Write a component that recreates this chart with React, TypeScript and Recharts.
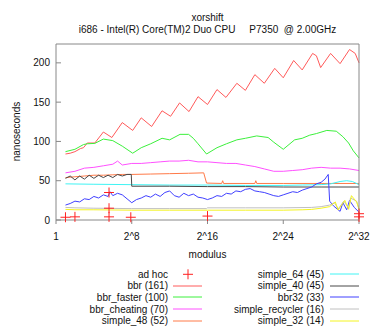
import { ComposedChart, Line, Scatter, XAxis, YAxis, Legend } from 'recharts';

// x is log2(modulus), y is nanoseconds
const adHoc = [[1, 3.5], [2, 4], [5.6, 35], [5.6, 15], [5.6, 4], [7.9, 3.5], [16, 5], [32, 4], [32, 8]];

const bbr = [[1, 84], [1.5, 85], [2, 87], [2.6, 91], [2.9, 92], [3.3, 98], [4.1, 98], [5, 112], [5.9, 105], [7, 124], [8.1, 114], [9, 130], [10.1, 119], [11.2, 139], [12.1, 132], [13.05, 149], [14.05, 138], [15, 157], [16, 147], [17, 166], [17.95, 156], [19.1, 174], [20, 165], [21, 185], [22, 174], [23.1, 193], [24, 181], [25.1, 203], [26, 191], [27.1, 212], [27.5, 209], [27.95, 194], [29, 212], [30, 199], [31, 217], [31.6, 212], [32, 200]];

const bbrFaster = [[1, 87], [2, 90], [2.9, 96], [3.3, 97], [4.1, 97.5], [5, 103], [6, 101], [7, 94], [8.1, 85], [9, 92], [10, 97], [11.2, 104], [12, 102], [13.1, 109], [14, 109], [14.5, 104], [15, 97], [15.9, 84], [17, 92], [18, 97], [19.1, 102], [20, 104], [21.2, 107], [22.4, 105], [23, 99], [24, 90], [25.2, 102], [26, 104], [26.8, 108], [27.5, 110], [28.6, 114], [29.6, 113], [30.3, 106], [30.9, 98], [31.4, 88], [32, 79]];

const bbrCheating = [[1, 60], [2, 62], [3, 66], [4, 67], [5, 69], [6, 71], [6.5, 75], [7, 70], [8, 72], [9, 72], [10, 73], [11, 74], [12, 75], [13, 75], [14, 76], [15, 74], [16, 74], [17, 73], [18, 72], [19, 72], [20, 70], [21, 68], [22, 65], [23, 62], [24, 62], [25, 63], [26, 64], [27, 66], [28, 67], [29, 66], [30, 66], [31, 65], [32, 63]];

const simple48 = [[1, 54], [2, 55], [3, 56], [4, 57], [5, 57], [6, 57.5], [7, 58], [8, 58], [10, 58.5], [12, 59], [14, 59.5], [15.6, 60], [15.9, 47], [17.5, 46.5], [17.6, 50], [17.7, 46.5], [21, 46.5], [21.1, 50], [21.2, 46.5], [24, 46.5], [28, 46.5], [32, 46.5]];

const simple64 = [[1, 46], [4, 45.5], [8, 45], [12, 44.5], [16, 44.5], [20, 44], [24, 44], [26, 44.5], [28, 45], [29, 46], [30, 49], [30.7, 50], [31.3, 49], [32, 45]];

const simple40 = [[1, 53], [1.5, 56], [2, 51], [2.5, 56], [3, 52], [3.5, 57], [4, 53], [4.5, 57], [5, 54], [5.5, 57], [6, 54], [6.5, 58], [7, 56], [7.5, 58], [7.95, 58], [8, 43], [12, 43], [16, 42.5], [20, 42.5], [24, 42], [28, 42], [32, 42]];

const bbr32 = [[1, 19], [1.5, 21], [2, 24], [2.5, 23], [3, 27], [3.5, 26], [4, 30], [4.5, 28], [5, 32], [5.5, 30], [5.7, 36], [6, 31], [6.5, 34], [7, 32], [7.5, 27], [8, 22], [8.5, 26], [9, 28], [9.5, 31], [10, 29], [10.5, 33], [11, 30], [11.5, 35], [12, 37], [12.5, 31], [13, 29], [13.5, 34], [14, 31], [14.5, 33], [15, 29], [15.5, 28], [16, 26], [16.5, 28], [17, 31], [17.5, 30], [18, 34], [18.5, 33], [19, 37], [19.5, 36], [20, 39], [20.5, 40], [21, 37], [21.5, 36], [22, 35], [22.5, 33], [23, 31], [23.5, 30], [24, 32], [24.5, 34], [25, 36], [25.5, 35], [26, 38], [26.5, 40], [27, 42], [27.5, 46], [28, 48], [28.4, 52], [28.75, 58], [28.9, 24], [29.3, 18], [30, 11], [30.3, 22], [30.7, 13], [31, 25], [31.5, 16], [32, 10]];

const simpleRecycler = [[1, 16], [2, 15.5], [4, 15], [8, 14.5], [12, 14.5], [15.9, 14.5], [16, 15.5], [20, 15.5], [24, 15.5], [27, 16], [28, 17], [28.9, 19], [29.4, 22], [29.8, 14], [30.4, 24], [30.9, 15], [31.1, 28], [31.75, 24], [32, 14]];

const simple32 = [[1, 13.5], [2, 13], [4, 13], [8, 12.5], [12, 12.5], [16, 12.5], [20, 12.5], [24, 12.5], [26, 13], [27, 13.5], [28, 15], [28.9, 17], [29.5, 23], [29.8, 12.7], [30.5, 25], [30.9, 13.6], [31.2, 31], [31.75, 23], [32, 13.6]];

const xTicks = [0, 8, 16, 24, 32];
const yTicks = [0, 50, 100, 150, 200];

const pts = (a: number[][]) => a.map(([x, y]) => ({ x, y }));

const series = [
  { name: 'bbr (161)', color: '#ff5a5a', data: bbr },
  { name: 'bbr_faster (100)', color: '#3cf03c', data: bbrFaster },
  { name: 'bbr_cheating (70)', color: '#ff50ff', data: bbrCheating },
  { name: 'simple_48 (52)', color: '#ff7a48', data: simple48 },
  { name: 'simple_64 (45)', color: '#40f4f4', data: simple64 },
  { name: 'simple_40 (45)', color: '#484848', data: simple40 },
  { name: 'bbr32 (33)', color: '#4040ff', data: bbr32 },
  { name: 'simple_recycler (16)', color: '#c0c0c0', data: simpleRecycler },
  { name: 'simple_32 (14)', color: '#f4f420', data: simple32 },
];

const AXIS = '#888';
const FONT = '"Liberation Sans", Arial, sans-serif';

const Cross = (props: any) => {
  const { cx, cy } = props;
  return <path d={`M${cx - 5},${cy}h10M${cx},${cy - 5}v10`} stroke="#ff2020" strokeWidth={1} />;
};

const rowY = [10.3, 21.8, 33.3, 45, 56.6];

function LegendBox() {
  const left = ['ad hoc', ...series.slice(0, 4).map((s) => s.name)];
  const leftColors = ['', ...series.slice(0, 4).map((s) => s.color)];
  const right = series.slice(4);
  return (
    <svg width={374} height={66} style={{ fontFamily: FONT }}>
      {left.map((name, i) => (
        <g key={name}>
          <text x={168} y={rowY[i]} textAnchor="end" dominantBaseline="central" fontSize={10} fill="#111">
            {name}
          </text>
          {i === 0 ? (
            <path d={`M183,${rowY[i]}h10M188,${rowY[i] - 5}v10`} stroke="#ff2020" />
          ) : (
            <line x1={173} x2={202} y1={Math.round(rowY[i])} y2={Math.round(rowY[i])} stroke={leftColors[i]} />
          )}
        </g>
      ))}
      {right.map((s, i) => (
        <g key={s.name}>
          <text x={324} y={rowY[i]} textAnchor="end" dominantBaseline="central" fontSize={10} fill="#111">
            {s.name}
          </text>
          <line x1={330} x2={359} y1={Math.round(rowY[i])} y2={Math.round(rowY[i])} stroke={s.color} />
        </g>
      ))}
    </svg>
  );
}

export default function App() {
  const tick = { fontSize: 10, fill: '#111' };
  return (
    <div style={{ position: 'absolute', left: 0, top: 0, width: 374, height: 330, background: '#fff', fontFamily: FONT }}>
      <ComposedChart width={374} height={330} margin={{ top: 0, right: 0, bottom: 0, left: 0 }}>
        <XAxis
          type="number"
          dataKey="x"
          domain={[0, 32]}
          ticks={xTicks}
          tickFormatter={(v) => (v === 0 ? '1' : `2^${v}`)}
          height={110}
          tickSize={4}
          tickMargin={9}
          stroke={AXIS}
          tick={tick}
        />
        <XAxis xAxisId="top" orientation="top" type="number" dataKey="x" domain={[0, 32]} ticks={xTicks} height={44} tickSize={4} tick={false} stroke={AXIS} />
        <YAxis type="number" domain={[0, 224]} ticks={yTicks} width={56} tickSize={-5} tickMargin={11} stroke={AXIS} tick={tick} />
        <YAxis yAxisId="right" orientation="right" type="number" domain={[0, 224]} ticks={yTicks} width={15} tickSize={-5} tick={false} stroke={AXIS} />
        <Scatter data={pts(adHoc)} dataKey="y" shape={<Cross />} isAnimationActive={false} />
        {series.map((s) => (
          <Line
            key={s.name}
            data={pts(s.data)}
            dataKey="y"
            type="linear"
            stroke={s.color}
            strokeWidth={1}
            dot={false}
            activeDot={false}
            isAnimationActive={false}
          />
        ))}
        <Legend
          layout="horizontal"
          verticalAlign="middle"
          align="center"
          content={() => <LegendBox />}
          wrapperStyle={{ position: 'absolute', top: 264, left: 0, width: 374, height: 66 }}
        />
      </ComposedChart>
      <svg width={374} height={330} style={{ position: 'absolute', left: 0, top: 0, pointerEvents: 'none' }}>
        <text x={207.5} y={17.5} textAnchor="middle" dominantBaseline="central" fontSize={10} fill="#111">
          xorshift
        </text>
        <text x={207.5} y={29.7} textAnchor="middle" dominantBaseline="central" fontSize={10} fill="#111" style={{ whiteSpace: 'pre' }}>
          {'i686 - Intel(R) Core(TM)2 Duo CPU     P7350  @ 2.00GHz'}
        </text>
        <text x={16} y={131.5} textAnchor="middle" dominantBaseline="central" fontSize={10} fill="#111" transform="rotate(-90 16 131.5)">
          nanoseconds
        </text>
        <text x={207.5} y={254} textAnchor="middle" dominantBaseline="central" fontSize={10} fill="#111">
          modulus
        </text>
      </svg>
    </div>
  );
}
